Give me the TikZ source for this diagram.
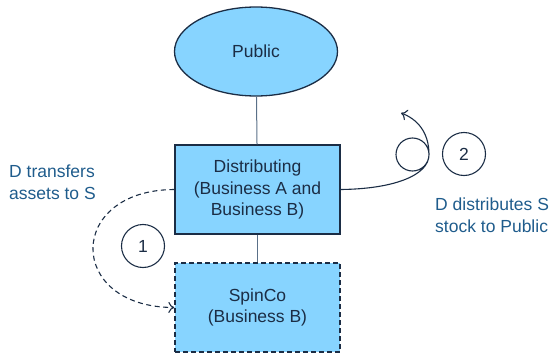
\documentclass[tikz,border=0pt]{standalone}
\usepackage{fontspec}
\setmainfont{Liberation Sans}
\usepackage{tikz}
\usetikzlibrary{arrows.meta}
\usetikzlibrary{shapes}
\definecolor{boxfill}{HTML}{87D4FF}
\definecolor{boxline}{HTML}{1B2D45}
\definecolor{linkline}{HTML}{5A7088}
\definecolor{notetext}{HTML}{1F5C8C}
\tikzset{
  entity/.style = {align=center, inner sep=0pt, text centered,
    font=\fontsize{17.5}{21.5}\selectfont, text=boxline},
  ent_box/.style = {entity, rectangle, draw=boxline, fill=boxfill,
    line width=1.3pt, minimum width=165pt, minimum height=89pt},% boite pleine
  ent_new/.style = {ent_box, dash pattern=on 5pt off 3pt},% societe nouvelle
  ent_pub/.style = {entity, ellipse, draw=boxline, fill=boxfill,
    line width=1.3pt, minimum width=163pt, minimum height=89pt},
  step_no/.style = {entity, circle, draw=boxline, line width=1.1pt,
    minimum size=43pt},% numero d'etape
  note/.style = {align=left, inner sep=0pt, anchor=west, text=notetext,
    font=\fontsize{17.5}{21.5}\selectfont}
}

\begin{document}
\begin{tikzpicture}[x=1pt,y=-1pt,>={To[length=6pt,width=11pt]}]
\useasboundingbox (0,0) rectangle (552,356);
\node [ent_pub] (pub) at (256,51.5) {Public};
\node [ent_box] (dist) at (257.5,189.5) {Distributing\\(Business A and\\Business B)};
\node [ent_new] (spin) at (257.5,307.5) {SpinCo\\(Business B)};
\node [step_no] (s1) at (143,246) {1};
\node [step_no] (s2) at (464,154) {2};
\node [note] (n1) at (9,182.5) {D transfers\\assets to S};
\node [note] (n2) at (435,215) {D distributes S\\stock to Public};

\draw [linkline, line width=1pt] (pub) -- (dist);
\draw [linkline, line width=1pt] (dist) -- (spin);

% etape 1
\draw [->, dash pattern=on 5pt off 3.5pt, boxline, line width=1.1pt] (dist.west)
  .. controls (66,190) and (66,307) .. (spin.west);
% etape 2
\coordinate (tip) at (401,113);
\draw [->, boxline, line width=1.1pt] (dist.east)
  .. controls (392,189) and (429,176) .. (429,154.5)
  arc [start angle=0, end angle=360, radius=16.5]
  .. controls (429,132) and (417,119) .. (tip);
\end{tikzpicture}
\end{document}
